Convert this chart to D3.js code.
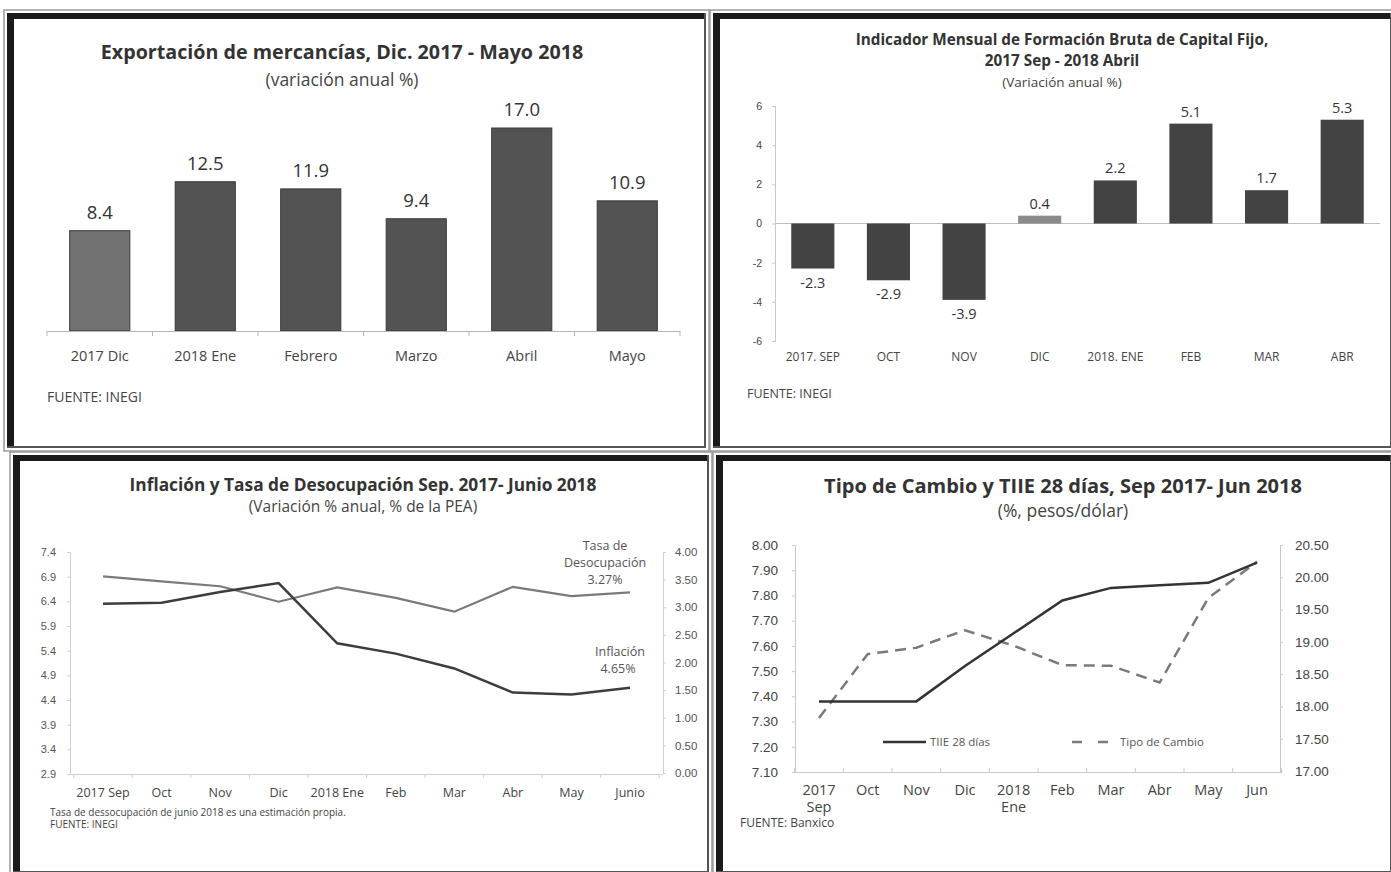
<!DOCTYPE html>
<html><head><meta charset="utf-8">
<script src="https://cdn.jsdelivr.net/npm/d3@7"></script>
<style>
body{margin:0;background:#fff;}
svg{display:block;font-family:"Open Sans","Noto Sans",sans-serif;}
</style></head><body>
<svg id="c" width="1391" height="872"></svg>
<script>
// ---------- DATA ----------
const expCats = ["2017 Dic","2018 Ene","Febrero","Marzo","Abril","Mayo"];
const expVals = [8.4,12.5,11.9,9.4,17.0,10.9];

const fbcfCats = ["2017. SEP","OCT","NOV","DIC","2018. ENE","FEB","MAR","ABR"];
const fbcfVals = [-2.3,-2.9,-3.9,0.4,2.2,5.1,1.7,5.3];
const fbcfTicks = [-6,-4,-2,0,2,4,6];

const infCats = ["2017 Sep","Oct","Nov","Dic","2018 Ene","Feb","Mar","Abr","May","Junio"];
const inflacion = [6.35,6.37,6.59,6.77,5.55,5.34,5.04,4.55,4.51,4.65];
const desocupacion = [3.56,3.47,3.38,3.10,3.36,3.17,2.92,3.37,3.20,3.27];
const infTicksL = [2.9,3.4,3.9,4.4,4.9,5.4,5.9,6.4,6.9,7.4];
const infTicksR = [0,0.5,1,1.5,2,2.5,3,3.5,4];

const tcCats = [["2017","Sep"],["Oct"],["Nov"],["Dic"],["2018","Ene"],["Feb"],["Mar"],["Abr"],["May"],["Jun"]];
const tiie = [7.38,7.38,7.38,7.52,7.65,7.78,7.83,7.84,7.85,7.93];
const tipoCambio = [17.82,18.81,18.91,19.18,18.94,18.64,18.63,18.37,19.68,20.24];
const tcTicksL = [7.1,7.2,7.3,7.4,7.5,7.6,7.7,7.8,7.9,8.0];
const tcTicksR = [17,17.5,18,18.5,19,19.5,20,20.5];

const svg = d3.select("#c");
svg.append("rect").attr("width",1391).attr("height",872).attr("fill","#fff");

// ---------- FRAMES ----------
function frame(x0,y0,x1,y1){
  const g = svg.append("g");
  g.append("rect").attr("x",x0).attr("y",y0).attr("width",x1-x0).attr("height",y1-y0)
    .attr("fill","#fff").attr("stroke","#9a9a9a").attr("stroke-width",1.5);
  g.append("rect").attr("x",x0+3).attr("y",y0+3).attr("width",x1-x0-6).attr("height",6).attr("fill","#1a1a1a");
  g.append("rect").attr("x",x0+3).attr("y",y0+3).attr("width",7).attr("height",y1-y0-6).attr("fill","#1a1a1a");
  g.append("rect").attr("x",x1-5).attr("y",y0+3).attr("width",2).attr("height",y1-y0-6).attr("fill","#555");
  g.append("rect").attr("x",x0+3).attr("y",y1-5).attr("width",x1-x0-6).attr("height",2).attr("fill","#555");
}
frame(4,10,709,451);
frame(710,10,1395,451);
frame(10,452,712,876);
frame(713,452,1395,876);

function text(x,y,t,opts){
  const e = svg.append("text").attr("x",x).attr("y",y).text(t)
    .attr("text-anchor",opts.anchor||"middle")
    .attr("font-size",opts.size||12).attr("fill",opts.fill||"#333")
    .attr("font-weight",opts.weight||"normal");
  return e;
}
const minusFmt = v => String(v);

// ---------- PANEL 1 ----------
{
  const x = d3.scaleBand().domain(expCats).range([47,680]).paddingInner(0.43).paddingOuter(0.215);
  const y = d3.scaleLinear().domain([0,17]).range([331,128]);
  text(342,59,"Exportación de mercancías, Dic. 2017 - Mayo 2018",{size:19.7,weight:"bold",fill:"#333"});
  text(342,86,"(variación anual %)",{size:17.5,fill:"#444"});
  svg.append("g").selectAll("rect").data(expVals).join("rect")
    .attr("x",(d,i)=>x(expCats[i])).attr("width",x.bandwidth())
    .attr("y",d=>y(d)).attr("height",d=>y(0)-y(d))
    .attr("fill",(d,i)=>i===0?"#727272":"#535353").attr("stroke","#3a3a3a").attr("stroke-width",1);
  svg.append("line").attr("x1",47).attr("x2",680).attr("y1",331.5).attr("y2",331.5).attr("stroke","#b5b5b5");
  d3.range(7).forEach(i=>{
    const xx = 47 + i*(633/6);
    svg.append("line").attr("x1",xx).attr("x2",xx).attr("y1",331).attr("y2",336).attr("stroke","#b5b5b5");
  });
  expCats.forEach((c,i)=>text(x(c)+x.bandwidth()/2,361,c,{size:14.5,fill:"#444"}));
  expVals.forEach((v,i)=>text(x(expCats[i])+x.bandwidth()/2,y(v)-12,v.toFixed(1),{size:18.5,fill:"#333"}));
  text(47,402,"FUENTE: INEGI",{size:14,anchor:"start",fill:"#444"});
}

// ---------- PANEL 2 ----------
{
  const x = d3.scaleBand().domain(fbcfCats).range([775,1380]).paddingInner(0.43).paddingOuter(0.215);
  const y = d3.scaleLinear().domain([-6,6]).range([341,106]);
  text(1062,45,"Indicador Mensual de Formación Bruta de Capital Fijo,",{size:15.3,weight:"bold"});
  text(1062,66,"2017 Sep - 2018 Abril",{size:15.3,weight:"bold"});
  text(1062,87,"(Variación anual %)",{size:13.5,fill:"#444"});
  svg.append("line").attr("x1",775).attr("x2",1380).attr("y1",y(0)).attr("y2",y(0)).attr("stroke","#bdbdbd");
  const ax = svg.append("g").attr("transform","translate(775,0)")
    .call(d3.axisLeft(y).tickValues(fbcfTicks).tickSize(3).tickPadding(10).tickFormat(minusFmt));
  ax.selectAll("path,line").attr("stroke","#c8c8c8");
  ax.selectAll("text").attr("font-size",10.5).attr("fill","#444").attr("font-family",null);
  svg.append("g").selectAll("rect").data(fbcfVals).join("rect")
    .attr("x",(d,i)=>x(fbcfCats[i])).attr("width",x.bandwidth())
    .attr("y",d=>y(Math.max(0,d))).attr("height",d=>Math.abs(y(d)-y(0)))
    .attr("fill",(d,i)=>i===3?"#8a8a8a":"#434343");
  fbcfVals.forEach((v,i)=>{
    const cx = x(fbcfCats[i])+x.bandwidth()/2;
    text(cx, v>=0 ? y(v)-7 : y(v)+19, v.toFixed(1),{size:14.5,fill:"#333"});
  });
  fbcfCats.forEach(c=>text(x(c)+x.bandwidth()/2,361,c,{size:12,fill:"#444"}));
  text(747,398,"FUENTE: INEGI",{size:12.5,anchor:"start",fill:"#444"});
}

// ---------- PANEL 3 ----------
{
  const x = d3.scalePoint().domain(infCats).range([103,630]);
  const yL = d3.scaleLinear().domain([2.9,7.4]).range([774,552]);
  const yR = d3.scaleLinear().domain([0,4]).range([773,552]);
  text(363,491,"Inflación y Tasa de Desocupación Sep. 2017- Junio 2018",{size:17.3,weight:"bold"});
  text(363,512,"(Variación % anual, % de la PEA)",{size:15.5,fill:"#444"});
  const axL = svg.append("g").attr("transform","translate(70,0)")
    .call(d3.axisLeft(yL).tickValues(infTicksL).tickSize(3).tickPadding(11).tickFormat(d3.format(".1f")));
  axL.selectAll("path,line").attr("stroke","#cfcfcf");
  axL.selectAll("text").attr("font-size",11).attr("fill","#555").attr("font-family",null);
  const axR = svg.append("g").attr("transform","translate(663,0)")
    .call(d3.axisRight(yR).tickValues(infTicksR).tickSize(3).tickPadding(9).tickFormat(d3.format(".2f")));
  axR.selectAll("path,line").attr("stroke","#cfcfcf");
  axR.selectAll("text").attr("font-size",11.5).attr("fill","#555").attr("font-family",null);
  svg.append("line").attr("x1",70).attr("x2",663).attr("y1",774.5).attr("y2",774.5).attr("stroke","#d0d0d0");
  d3.range(11).forEach(i=>{
    const xx = 103 - x.step()/2 + i*x.step();
    svg.append("line").attr("x1",xx).attr("x2",xx).attr("y1",774).attr("y2",778).attr("stroke","#d0d0d0");
  });
  infCats.forEach(c=>text(x(c),797,c,{size:12.5,fill:"#444"}));
  const lineL = d3.line().x((d,i)=>x(infCats[i])).y(d=>yL(d));
  const lineR = d3.line().x((d,i)=>x(infCats[i])).y(d=>yR(d));
  svg.append("path").attr("d",lineR(desocupacion)).attr("fill","none").attr("stroke","#7a7a7a").attr("stroke-width",2.2);
  svg.append("path").attr("d",lineL(inflacion)).attr("fill","none").attr("stroke","#3d3d3d").attr("stroke-width",2.5);
  text(605,550,"Tasa de",{size:12.5,fill:"#555"});
  text(605,567,"Desocupación",{size:12.5,fill:"#555"});
  text(605,584,"3.27%",{size:12.5,fill:"#555"});
  text(620,656,"Inflación",{size:12.5,fill:"#555"});
  text(618,673,"4.65%",{size:12.5,fill:"#555"});
  text(50,816,"Tasa de dessocupación de junio 2018 es una estimación propia.",{size:10,anchor:"start",fill:"#444"});
  text(50,828,"FUENTE: INEGI",{size:10,anchor:"start",fill:"#444"});
}

// ---------- PANEL 4 ----------
{
  const x = d3.scalePoint().domain(tcCats.map(d=>d.join(" "))).range([819,1257]);
  const yL = d3.scaleLinear().domain([7.1,8.0]).range([772,545]);
  const yR = d3.scaleLinear().domain([17,20.5]).range([771,545]);
  text(1063,493,"Tipo de Cambio y TIIE 28 días, Sep 2017- Jun 2018",{size:20,weight:"bold"});
  text(1063,517,"(%, pesos/dólar)",{size:17.5,fill:"#444"});
  const axL = svg.append("g").attr("transform","translate(795,0)")
    .call(d3.axisLeft(yL).tickValues(tcTicksL).tickSize(3).tickPadding(14).tickFormat(d3.format(".2f")));
  axL.selectAll("path,line").attr("stroke","#c8c8c8");
  axL.selectAll("text").attr("font-size",13.5).attr("fill","#444").attr("font-family",null);
  const axR = svg.append("g").attr("transform","translate(1280,0)")
    .call(d3.axisRight(yR).tickValues(tcTicksR).tickSize(3).tickPadding(12).tickFormat(d3.format(".2f")));
  axR.selectAll("path,line").attr("stroke","#c8c8c8");
  axR.selectAll("text").attr("font-size",13.5).attr("fill","#444").attr("font-family",null);
  svg.append("line").attr("x1",795).attr("x2",1282).attr("y1",772.5).attr("y2",772.5).attr("stroke","#c8c8c8");
  d3.range(11).forEach(i=>{
    const xx = 819 - x.step()/2 + i*x.step();
    svg.append("line").attr("x1",xx).attr("x2",xx).attr("y1",768).attr("y2",772).attr("stroke","#c8c8c8");
  });
  tcCats.forEach(c=>{
    const cx = x(c.join(" "));
    c.forEach((t,j)=>text(cx,795+j*17,t,{size:14.5,fill:"#444"}));
  });
  const lineL = d3.line().x((d,i)=>x(tcCats[i].join(" "))).y(d=>yL(d));
  const lineR = d3.line().x((d,i)=>x(tcCats[i].join(" "))).y(d=>yR(d));
  svg.append("path").attr("d",lineR(tipoCambio)).attr("fill","none").attr("stroke","#7a7a7a")
    .attr("stroke-width",2.5).attr("stroke-dasharray","11,7");
  svg.append("path").attr("d",lineL(tiie)).attr("fill","none").attr("stroke","#333").attr("stroke-width",2.5);
  svg.append("line").attr("x1",883).attr("x2",926).attr("y1",742).attr("y2",742).attr("stroke","#333").attr("stroke-width",2.5);
  text(930,746,"TIIE 28 días",{size:11.5,anchor:"start",fill:"#555"});
  svg.append("line").attr("x1",1072).attr("x2",1110).attr("y1",742).attr("y2",742).attr("stroke","#7a7a7a")
    .attr("stroke-width",2.5).attr("stroke-dasharray","10,16");
  text(1120,746,"Tipo de Cambio",{size:11.5,anchor:"start",fill:"#555"});
  text(740,827,"FUENTE: Banxico",{size:12,anchor:"start",fill:"#444"});
}
</script></body></html>
